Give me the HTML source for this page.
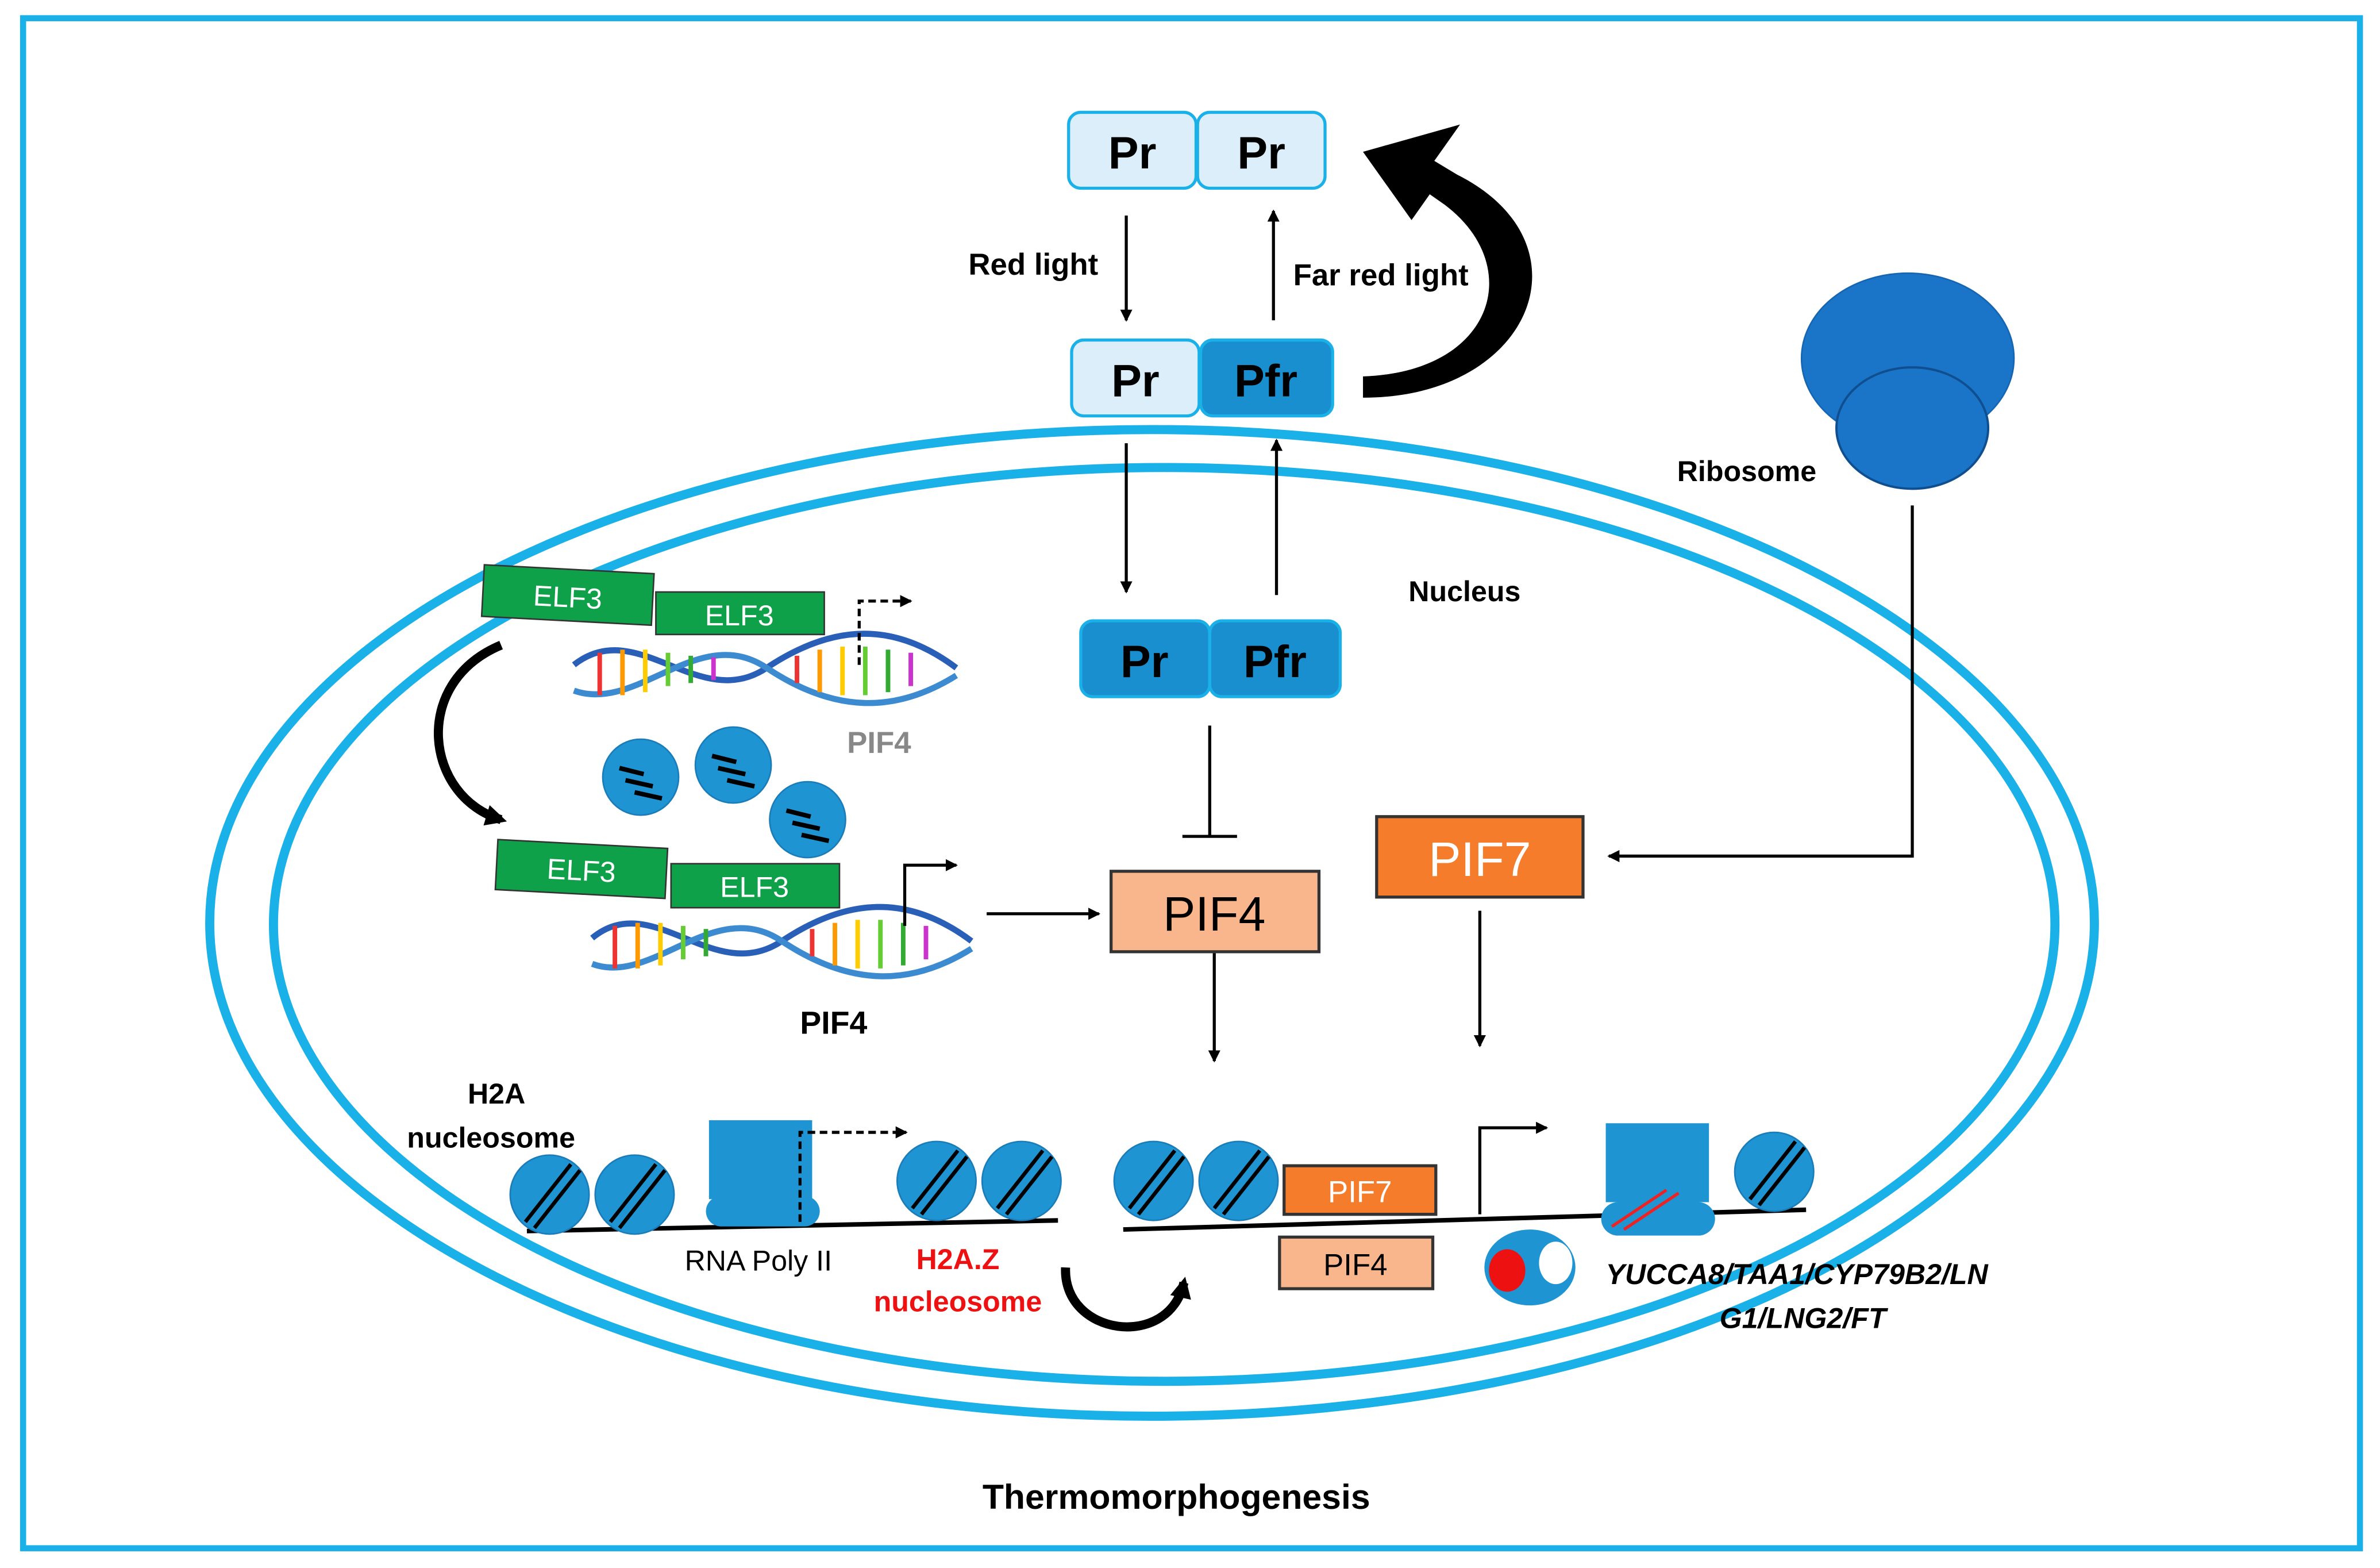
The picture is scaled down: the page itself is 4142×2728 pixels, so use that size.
<!DOCTYPE html>
<html><head><meta charset="utf-8"><style>html,body{margin:0;padding:0;background:#fff}svg{display:block}text{font-family:"Liberation Sans",sans-serif}</style></head>
<body>
<svg width="4142" height="2728" viewBox="0 0 1568 1033" xmlns="http://www.w3.org/2000/svg">
<defs>
<marker id="ah" markerWidth="8" markerHeight="8" refX="7" refY="4" orient="auto" markerUnits="userSpaceOnUse"><path d="M0,0 L8,4 L0,8 z" fill="#000"/></marker>
<marker id="ahb" markerWidth="14" markerHeight="14" refX="10" refY="7" orient="auto" markerUnits="userSpaceOnUse"><path d="M0,0 L14,7 L0,14 z" fill="#000"/></marker>
<g id="nuc"><circle r="26" fill="#1f94d2" stroke="#1a7cb8" stroke-width="1"/><line x1="-16" y1="18" x2="14" y2="-20" stroke="#000" stroke-width="2.5"/><line x1="-10" y1="22" x2="20" y2="-16" stroke="#000" stroke-width="2.5"/></g>
<g id="nuc2"><circle r="25" fill="#1f94d2" stroke="#1a7cb8"/><line x1="-14" y1="-6" x2="2" y2="-2" stroke="#000" stroke-width="3"/><line x1="-10" y1="2" x2="8" y2="6" stroke="#000" stroke-width="3"/><line x1="-4" y1="10" x2="14" y2="14" stroke="#000" stroke-width="3"/></g>
</defs>
<rect x="15" y="12" width="1540" height="1008" fill="#fff" stroke="#1ab0e8" stroke-width="4"/>
<ellipse cx="759" cy="608" rx="621" ry="325" fill="none" stroke="#1ab0e8" stroke-width="6"/>
<ellipse cx="767" cy="609" rx="587" ry="301" fill="none" stroke="#1ab0e8" stroke-width="6"/>

<!-- top Pr Pr -->
<rect x="704" y="74" width="84" height="50" rx="8" fill="#dbeef9" stroke="#1ab0e8" stroke-width="2"/>
<rect x="789" y="74" width="84" height="50" rx="8" fill="#dbeef9" stroke="#1ab0e8" stroke-width="2"/>
<text x="746" y="111" font-size="30" font-weight="bold" text-anchor="middle">Pr</text>
<text x="831" y="111" font-size="30" font-weight="bold" text-anchor="middle">Pr</text>
<rect x="706" y="224" width="84" height="50" rx="8" fill="#dbeef9" stroke="#1ab0e8" stroke-width="2"/>
<rect x="791" y="224" width="87" height="50" rx="8" fill="#1a8fd0" stroke="#1ab0e8" stroke-width="2"/>
<text x="748" y="261" font-size="30" font-weight="bold" text-anchor="middle">Pr</text>
<text x="834" y="261" font-size="30" font-weight="bold" text-anchor="middle">Pfr</text>
<line x1="742" y1="142" x2="742" y2="211" stroke="#000" stroke-width="2" marker-end="url(#ah)"/>
<line x1="839" y1="211" x2="839" y2="139" stroke="#000" stroke-width="2" marker-end="url(#ah)"/>
<text x="638" y="181" font-size="20" font-weight="bold">Red light</text>
<text x="852" y="188" font-size="20" font-weight="bold">Far red light</text>
<path d="M898,262 C1010,262 1050,160 960,115 L945,106 L962,82 L898,100 L930,145 L942,128 L952,135 C1005,175 985,245 898,248 Z" fill="#000"/>

<!-- ribosome -->
<ellipse cx="1257" cy="236" rx="70" ry="56" fill="#1a74c8" stroke="#1565b0"/>
<ellipse cx="1260" cy="282" rx="50" ry="40" fill="#1a74c8" stroke="#0f4f90" stroke-width="1.5"/>
<text x="1105" y="317" font-size="19" font-weight="bold">Ribosome</text>
<polyline points="1260,333 1260,564 1060,564" fill="none" stroke="#000" stroke-width="2" marker-end="url(#ah)"/>
<text x="928" y="396" font-size="19" font-weight="bold">Nucleus</text>

<!-- nucleus Pr Pfr -->
<line x1="742" y1="292" x2="742" y2="390" stroke="#000" stroke-width="2" marker-end="url(#ah)"/>
<line x1="841" y1="392" x2="841" y2="290" stroke="#000" stroke-width="2" marker-end="url(#ah)"/>
<rect x="712" y="409" width="85" height="50" rx="8" fill="#1a8fd0" stroke="#1ab0e8" stroke-width="2"/>
<rect x="797" y="409" width="86" height="50" rx="8" fill="#1a8fd0" stroke="#1ab0e8" stroke-width="2"/>
<text x="754" y="446" font-size="30" font-weight="bold" text-anchor="middle">Pr</text>
<text x="840" y="446" font-size="30" font-weight="bold" text-anchor="middle">Pfr</text>
<line x1="797" y1="478" x2="797" y2="551" stroke="#000" stroke-width="2"/>
<line x1="779" y1="551" x2="815" y2="551" stroke="#000" stroke-width="2"/>

<rect x="732" y="574" width="137" height="53" fill="#f9b58c" stroke="#333" stroke-width="2"/>
<text x="800" y="613" font-size="32" text-anchor="middle">PIF4</text>
<rect x="907" y="538" width="136" height="53" fill="#f47c2a" stroke="#333" stroke-width="2"/>
<text x="975" y="577" font-size="32" text-anchor="middle" fill="#fff">PIF7</text>
<line x1="800" y1="628" x2="800" y2="699" stroke="#000" stroke-width="2" marker-end="url(#ah)"/>
<line x1="975" y1="600" x2="975" y2="689" stroke="#000" stroke-width="2" marker-end="url(#ah)"/>
<line x1="650" y1="602" x2="724" y2="602" stroke="#000" stroke-width="2" marker-end="url(#ah)"/>

<!-- ELF3 + DNA top -->
<g transform="rotate(3 374 392)"><rect x="318" y="375" width="112" height="34" fill="#0fa14a" stroke="#333"/><text x="374" y="400" font-size="19" fill="#fff" text-anchor="middle">ELF3</text></g>
<rect x="432" y="390" width="111" height="28" fill="#0fa14a" stroke="#333"/><text x="487" y="412" font-size="19" fill="#fff" text-anchor="middle">ELF3</text>
<g stroke-width="4" fill="none">
<path d="M378,438 C420,405 460,470 505,440 S590,410 630,440" stroke="#2a5fb8"/>
<path d="M378,455 C420,470 460,410 505,440 S590,470 630,445" stroke="#3c8ad0"/>
</g>
<g stroke-width="3">
<line x1="395" y1="430" x2="395" y2="458" stroke="#e33"/><line x1="410" y1="428" x2="410" y2="458" stroke="#f90"/><line x1="425" y1="428" x2="425" y2="456" stroke="#fc0"/><line x1="440" y1="430" x2="440" y2="452" stroke="#6c3"/><line x1="455" y1="432" x2="455" y2="450" stroke="#3a3"/><line x1="470" y1="433" x2="470" y2="448" stroke="#c3c"/><line x1="525" y1="432" x2="525" y2="450" stroke="#e33"/><line x1="540" y1="428" x2="540" y2="456" stroke="#f90"/><line x1="555" y1="426" x2="555" y2="458" stroke="#fc0"/><line x1="570" y1="426" x2="570" y2="458" stroke="#6c3"/><line x1="585" y1="428" x2="585" y2="456" stroke="#3a3"/><line x1="600" y1="430" x2="600" y2="452" stroke="#c3c"/>
</g>
<polyline points="566,438 566,396 600,396" fill="none" stroke="#000" stroke-width="2" stroke-dasharray="5,3" marker-end="url(#ah)"/>
<text x="558" y="496" font-size="20" font-weight="bold" fill="#888">PIF4</text>
<path d="M330,425 C270,450 280,525 330,540" fill="none" stroke="#000" stroke-width="6" marker-end="url(#ahb)"/>
<use href="#nuc2" x="422" y="512"/><use href="#nuc2" x="483" y="504"/><use href="#nuc2" x="532" y="540"/>

<!-- ELF3 + DNA lower -->
<g transform="rotate(3 383 572)"><rect x="327" y="556" width="112" height="33" fill="#0fa14a" stroke="#333"/><text x="383" y="580" font-size="19" fill="#fff" text-anchor="middle">ELF3</text></g>
<rect x="442" y="569" width="111" height="29" fill="#0fa14a" stroke="#333"/><text x="497" y="591" font-size="19" fill="#fff" text-anchor="middle">ELF3</text>
<g stroke-width="4" fill="none">
<path d="M390,618 C430,585 470,650 515,620 S600,590 640,620" stroke="#2a5fb8"/>
<path d="M390,635 C430,650 470,590 515,620 S600,650 640,625" stroke="#3c8ad0"/>
</g>
<g stroke-width="3">
<line x1="405" y1="610" x2="405" y2="638" stroke="#e33"/><line x1="420" y1="608" x2="420" y2="638" stroke="#f90"/><line x1="435" y1="608" x2="435" y2="636" stroke="#fc0"/><line x1="450" y1="610" x2="450" y2="632" stroke="#6c3"/><line x1="465" y1="612" x2="465" y2="630" stroke="#3a3"/><line x1="535" y1="612" x2="535" y2="630" stroke="#e33"/><line x1="550" y1="608" x2="550" y2="636" stroke="#f90"/><line x1="565" y1="606" x2="565" y2="638" stroke="#fc0"/><line x1="580" y1="606" x2="580" y2="638" stroke="#6c3"/><line x1="595" y1="608" x2="595" y2="636" stroke="#3a3"/><line x1="610" y1="610" x2="610" y2="632" stroke="#c3c"/>
</g>
<polyline points="596,610 596,570 630,570" fill="none" stroke="#000" stroke-width="2" marker-end="url(#ah)"/>
<text x="527" y="681" font-size="21" font-weight="bold">PIF4</text>

<!-- bottom chromatin -->
<text x="308" y="727" font-size="19" font-weight="bold">H2A</text>
<text x="268" y="756" font-size="19" font-weight="bold">nucleosome</text>
<line x1="347" y1="811" x2="697" y2="804" stroke="#000" stroke-width="3"/>
<line x1="740" y1="810" x2="1190" y2="797" stroke="#000" stroke-width="3"/>
<use href="#nuc" x="362" y="787"/><use href="#nuc" x="418" y="787"/>
<rect x="467" y="738" width="68" height="52" fill="#1f94d2"/>
<rect x="465" y="788" width="75" height="20" rx="10" fill="#1f94d2"/>
<polyline points="527,805 527,746 597,746" fill="none" stroke="#000" stroke-width="2" stroke-dasharray="5,3" marker-end="url(#ah)"/>
<use href="#nuc" x="617" y="778"/><use href="#nuc" x="673" y="778"/>
<use href="#nuc" x="760" y="778"/><use href="#nuc" x="816" y="778"/>
<rect x="846" y="768" width="100" height="32" fill="#f47c2a" stroke="#333" stroke-width="2"/>
<text x="896" y="792" font-size="20" fill="#fff" text-anchor="middle">PIF7</text>
<rect x="843" y="815" width="101" height="34" fill="#f9b58c" stroke="#333" stroke-width="2"/>
<text x="893" y="840" font-size="20" text-anchor="middle">PIF4</text>
<polyline points="975,800 975,743 1019,743" fill="none" stroke="#000" stroke-width="2" marker-end="url(#ah)"/>
<rect x="1058" y="740" width="68" height="52" fill="#1f94d2"/>
<rect x="1055" y="792" width="75" height="22" rx="11" fill="#1f94d2"/>
<line x1="1062" y1="808" x2="1098" y2="784" stroke="#e22" stroke-width="2"/><line x1="1070" y1="810" x2="1106" y2="786" stroke="#e22" stroke-width="2"/>
<use href="#nuc" x="1169" y="772"/>
<ellipse cx="1008" cy="835" rx="30" ry="25" fill="#1f94d2"/>
<ellipse cx="993" cy="837" rx="12" ry="14" fill="#e11"/>
<ellipse cx="1025" cy="832" rx="11" ry="14" fill="#fff"/>
<text x="451" y="837" font-size="19">RNA Poly II</text>
<text x="631" y="836" font-size="19" font-weight="bold" fill="#e11" text-anchor="middle">H2A.Z</text>
<text x="631" y="864" font-size="19" font-weight="bold" fill="#e11" text-anchor="middle">nucleosome</text>
<path d="M702,835 C700,880 770,890 780,845" fill="none" stroke="#000" stroke-width="6" marker-end="url(#ahb)"/>
<text x="1058" y="846" font-size="19" font-weight="bold" font-style="italic">YUCCA8/TAA1/CYP79B2/LN</text>
<text x="1133" y="875" font-size="19" font-weight="bold" font-style="italic">G1/LNG2/FT</text>
<text x="775" y="994" font-size="23" font-weight="bold" text-anchor="middle">Thermomorphogenesis</text>
</svg>
</body></html>
